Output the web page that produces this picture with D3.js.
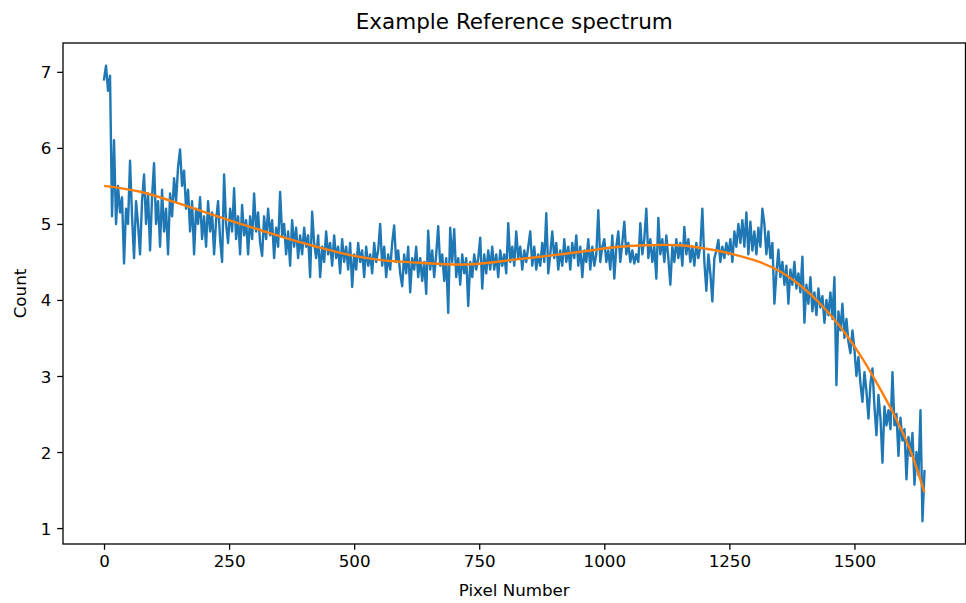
<!DOCTYPE html>
<html>
<head>
<meta charset="utf-8">
<script src="https://cdn.jsdelivr.net/npm/d3@7/dist/d3.min.js"></script>
<style>
  body { margin: 0; background: #fff; }
  text { font-family: "DejaVu Sans", sans-serif; fill: #000; }
</style>
</head>
<body>
<div class="container"></div>
<script>
// spectrum, one value every 4 pixels (0 .. 1640)
var pixelStep = 4;
var spectrumCounts = [
  6.9, 7.08, 6.75, 6.95, 5.1, 6.1, 5.0, 5.5, 5.15, 5.35, 4.48, 5.2, 5.0, 5.83, 5.1, 4.55, 5.3, 5.0, 4.6, 5.3, 5.65, 5.0, 5.4, 4.65, 5.35,
  5.8, 5.0, 5.3, 4.7, 5.45, 4.9, 5.2, 4.6, 5.4, 5.1, 5.6, 5.3, 5.75, 5.98, 5.5, 5.7, 5.2, 5.45, 4.9, 5.3, 4.6, 5.2, 5.0, 5.35, 4.8,
  5.1, 4.7, 5.3, 4.9, 5.15, 4.6, 5.05, 5.3, 4.8, 4.5, 5.65, 5.0, 4.75, 5.2, 4.9, 5.47, 4.8, 5.1, 4.6, 5.25, 4.85, 5.05, 4.6, 5.1, 4.8,
  5.4, 4.9, 5.15, 4.75, 4.58, 5.1, 4.8, 5.2, 4.85, 5.05, 4.55, 4.95, 4.7, 5.42, 4.85, 5.0, 4.6, 4.9, 4.45, 5.05, 4.7, 4.95, 4.55, 4.85, 4.6,
  4.95, 4.7, 4.85, 4.3, 5.16, 4.75, 4.55, 4.85, 4.3, 4.7, 4.5, 4.9, 4.6, 4.75, 4.45, 4.85, 4.55, 4.7, 4.35, 4.8, 4.5, 4.7, 4.4, 4.75, 4.17,
  4.6, 4.4, 4.75, 4.5, 4.65, 4.3, 4.7, 4.45, 4.6, 4.35, 4.75, 4.5, 4.65, 5.0, 4.45, 4.7, 4.3, 4.6, 4.4, 4.75, 4.98, 4.5, 4.65, 4.35, 4.18,
  4.6, 4.35, 4.7, 4.1, 4.55, 4.4, 4.7, 4.3, 4.55, 4.25, 4.5, 4.08, 4.91, 4.4, 4.65, 4.3, 4.6, 4.97, 4.45, 4.6, 4.25, 4.55, 3.83, 4.95, 4.5,
  4.93, 4.3, 4.55, 4.2, 4.6, 4.35, 4.55, 3.92, 4.5, 4.3, 4.6, 4.4, 4.55, 4.82, 4.15, 4.6, 4.35, 4.65, 4.4, 4.7, 4.4, 4.6, 4.3, 4.65, 4.45,
  4.6, 4.35, 5.01, 4.5, 4.7, 4.45, 4.9, 4.55, 4.7, 4.4, 4.65, 4.5, 4.7, 4.9, 4.45, 4.7, 4.4, 4.6, 4.45, 4.75, 4.5, 5.14, 4.35, 4.6, 4.9,
  4.55, 4.75, 4.4, 4.65, 4.45, 4.8, 4.5, 4.7, 4.4, 4.75, 4.55, 4.85, 4.45, 4.7, 4.3, 4.65, 4.5, 4.8, 4.4, 4.7, 4.45, 4.6, 5.18, 4.5, 4.7,
  4.8, 4.5, 4.65, 4.4, 4.85, 4.28, 4.7, 4.9, 4.5, 4.75, 5.03, 4.6, 4.75, 4.5, 4.65, 4.48, 4.6, 4.5, 5.01, 4.6, 4.8, 5.2, 4.55, 4.8, 4.5,
  4.7, 4.28, 5.08, 4.6, 4.8, 4.5, 4.85, 4.55, 4.2, 4.7, 4.5, 4.8, 4.55, 4.75, 4.45, 4.96, 4.6, 4.8, 4.5, 4.7, 4.45, 4.75, 4.55, 4.7, 5.2,
  4.5, 4.12, 4.6, 4.35, 3.98, 4.55, 4.65, 4.79, 4.5, 4.7, 4.55, 4.75, 4.6, 4.8, 4.5, 4.9, 4.7, 5.0, 4.75, 5.05, 4.7, 5.15, 4.6, 5.03, 4.65,
  4.9, 4.6, 4.95, 4.7, 5.2, 5.0, 4.6, 4.9, 4.55, 4.75, 3.95, 4.35, 4.66, 4.3, 4.5, 4.2, 4.45, 3.95, 4.4, 4.2, 4.5, 4.15, 4.35, 4.1, 4.57,
  3.7, 4.2, 3.95, 4.3, 3.85, 4.1, 3.8, 4.15, 3.9, 4.05, 3.7, 4.0, 3.8, 4.1, 3.75, 4.3, 2.88, 3.85, 3.6, 3.95, 3.5, 3.75, 3.45, 3.3, 3.6,
  3.35, 3.0, 3.25, 2.9, 2.66, 3.05, 2.8, 2.44, 2.9, 3.1, 2.6, 2.22, 2.75, 2.45, 1.86, 2.6, 2.35, 2.55, 2.3, 3.05, 2.35, 2.5, 1.95, 2.45, 2.15,
  2.3, 1.64, 2.2, 1.95, 2.25, 1.57, 2.0, 1.7, 2.55, 1.09, 1.75
];
// smooth fit (orange)
var fitPixels = [0, 75, 140, 240, 312, 360, 425, 492, 558, 630, 680, 735, 820, 887, 960, 1016, 1083, 1150, 1216, 1270, 1310, 1350, 1390, 1430, 1470, 1510, 1548, 1580, 1610, 1640];
var fitCounts = [5.50, 5.42, 5.29, 5.07, 4.92, 4.82, 4.70, 4.59, 4.52, 4.49, 4.47, 4.47, 4.53, 4.58, 4.64, 4.69, 4.72, 4.72, 4.66, 4.58, 4.50, 4.38, 4.20, 3.96, 3.66, 3.29, 2.87, 2.48, 2.05, 1.47];
var xTicks = [0, 250, 500, 750, 1000, 1250, 1500];
var yTicks = [1, 2, 3, 4, 5, 6, 7];

var W = 966, H = 603;
var padL = 63, padR = 965.5, padT = 43, padB = 544;

var spectrum = spectrumCounts.map((c, i) => [i * pixelStep, c]);
var fit = fitPixels.map((p, i) => [p, fitCounts[i]]);

var svg = d3
  .select(".container")
  .append("svg")
  .attr("width", W)
  .attr("height", H);

// matplotlib style 5% margins
var xExt = d3.extent(spectrum, (d) => d[0]);
var yExt = d3.extent(spectrum, (d) => d[1]);
var xPad = (xExt[1] - xExt[0]) * 0.05,
  yPad = (yExt[1] - yExt[0]) * 0.05;

var xScale = d3
  .scaleLinear()
  .domain([xExt[0] - xPad, xExt[1] + xPad])
  .range([padL, padR]);
var yScale = d3
  .scaleLinear()
  .domain([yExt[0] - yPad, yExt[1] + yPad])
  .range([padB, padT]);

svg
  .append("defs")
  .append("clipPath")
  .attr("id", "plot")
  .append("rect")
  .attr("x", padL)
  .attr("y", padT)
  .attr("width", padR - padL)
  .attr("height", padB - padT);

var line = d3
  .line()
  .x((d) => xScale(d[0]))
  .y((d) => yScale(d[1]));

svg
  .append("path")
  .datum(spectrum)
  .attr("clip-path", "url(#plot)")
  .attr("d", line)
  .attr("fill", "none")
  .attr("stroke", "#1f77b4")
  .attr("stroke-width", 2.4)
  .attr("stroke-linejoin", "round")
  .attr("stroke-linecap", "square");

svg
  .append("path")
  .datum(fit)
  .attr("clip-path", "url(#plot)")
  .attr("d", line.curve(d3.curveCatmullRom.alpha(0.5)))
  .attr("fill", "none")
  .attr("stroke", "#ff7f0e")
  .attr("stroke-width", 2.4);

var xAxis = d3
  .axisBottom(xScale)
  .tickValues(xTicks)
  .tickFormat(d3.format("d"))
  .tickSize(5.8)
  .tickPadding(5.8)
  .tickSizeOuter(0);
var yAxis = d3
  .axisLeft(yScale)
  .tickValues(yTicks)
  .tickFormat(d3.format("d"))
  .tickSize(5.8)
  .tickPadding(5.8)
  .tickSizeOuter(0);

var gx = svg
  .append("g")
  .attr("transform", "translate(0," + padB + ")")
  .call(xAxis);
var gy = svg
  .append("g")
  .attr("transform", "translate(" + padL + ",0)")
  .call(yAxis);

[gx, gy].forEach((g) => {
  g.select(".domain").remove();
  g.selectAll(".tick line").attr("stroke", "#000").attr("stroke-width", 1.3);
  g.selectAll(".tick text")
    .attr("font-family", "DejaVu Sans")
    .attr("font-size", 16.7)
    .attr("fill", "#000");
});
gx.selectAll(".tick text").attr("dy", "0.71em");
gy.selectAll(".tick text").attr("dy", "0.36em");

// frame
svg
  .append("rect")
  .attr("x", padL)
  .attr("y", padT)
  .attr("width", padR - padL)
  .attr("height", padB - padT)
  .attr("fill", "none")
  .attr("stroke", "#000")
  .attr("stroke-width", 1.3);

svg
  .append("text")
  .attr("x", (padL + padR) / 2)
  .attr("y", 29)
  .attr("text-anchor", "middle")
  .attr("font-size", 21.5)
  .text("Example Reference spectrum");

svg
  .append("text")
  .attr("x", (padL + padR) / 2)
  .attr("y", 596)
  .attr("text-anchor", "middle")
  .attr("font-size", 16.7)
  .text("Pixel Number");

svg
  .append("text")
  .attr("transform", "rotate(-90)")
  .attr("x", -(padT + padB) / 2)
  .attr("y", 26)
  .attr("text-anchor", "middle")
  .attr("font-size", 16.7)
  .text("Count");
</script>
</body>
</html>
